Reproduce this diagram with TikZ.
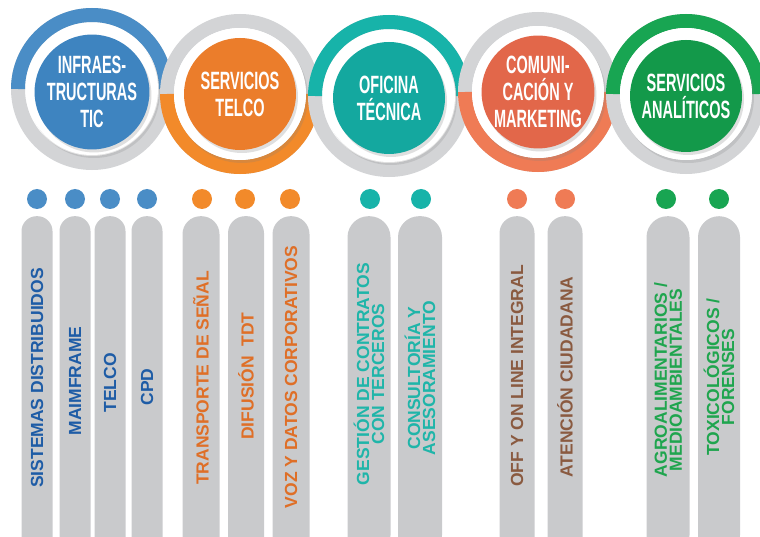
\documentclass[tikz,border=0pt]{standalone}
\usepackage{fontspec}
\setmainfont{Liberation Sans}
\newfontfamily\circfont[FakeStretch=0.58]{Liberation Sans}
\usetikzlibrary{shadows}
\definecolor{ringgray}{HTML}{D3D4D6}
\definecolor{bargray}{HTML}{C9CACC}
\definecolor{infblue}{HTML}{4A8DC6}
\definecolor{discblue}{HTML}{3E84C0}
\definecolor{txtblue}{HTML}{1E5CA6}
\definecolor{telorange}{HTML}{F28A2A}
\definecolor{discorange}{HTML}{EB7D2B}
\definecolor{txtorange}{HTML}{DF6F27}
\definecolor{ofteal}{HTML}{17B3A9}
\definecolor{discteal}{HTML}{14A89F}
\definecolor{txtteal}{HTML}{1FB5A9}
\definecolor{comsalmon}{HTML}{EF7B55}
\definecolor{discsalmon}{HTML}{E2674A}
\definecolor{txtbrown}{HTML}{8A5A40}
\definecolor{angreen}{HTML}{18A552}
\definecolor{discgreen}{HTML}{13994A}
\definecolor{txtgreen}{HTML}{1FA54E}

\begin{document}
\begin{tikzpicture}[x=1pt, y=-1pt,
  ring/.style={line width=14pt},
  plate/.style={circle, fill=white, minimum size=132pt, inner sep=0pt,
    drop shadow={opacity=0.22, shadow xshift=2pt, shadow yshift=-3pt}},
  disc/.style={circle, minimum size=112pt, inner sep=0pt, text=white, align=center,
    drop shadow={opacity=0.25, shadow xshift=2pt, shadow yshift=-3pt},
    font=\circfont\bfseries\fontsize{25}{27}\selectfont},
  dot/.style={circle, minimum size=20pt, inner sep=0pt},
  bar/.style 2 args={rectangle, fill=bargray, anchor=north, inner sep=0pt,
    minimum width=#1, minimum height=340pt, rounded corners=#2},
  lab/.style={rotate=90, align=center, font=\bfseries\fontsize{17.5}{15}\selectfont}]

\useasboundingbox (0,0) rectangle (760,537);

\coordinate (r1) at (92,89);
\coordinate (r2) at (240,94);
\coordinate (r3) at (389,96);
\coordinate (r4) at (538,92);
\coordinate (r5) at (686,94);

\draw[ring, ringgray] (r1) circle[radius=74pt];
\draw[ring, infblue] (r1) ++(-74pt,0pt) arc[start angle=180, end angle=0, radius=74pt];
\draw[ring, ringgray] (r2) circle[radius=73pt];
\draw[ring, telorange] (r2) ++(-73pt,0pt) arc[start angle=180, end angle=360, radius=73pt];
\draw[ring, ringgray] (r3) circle[radius=74pt];
\draw[ring, ofteal] (r3) ++(-74pt,0pt) arc[start angle=180, end angle=0, radius=74pt];
\draw[ring, ringgray] (r4) circle[radius=73pt];
\draw[ring, comsalmon] (r4) ++(-73pt,0pt) arc[start angle=180, end angle=360, radius=73pt];
\draw[ring, ringgray] (r5) circle[radius=73pt];
\draw[ring, angreen] (r5) ++(-73pt,0pt) arc[start angle=180, end angle=0, radius=73pt];

\node[plate] (p1) at (r1) {};
\node[plate] (p2) at (r2) {};
\node[plate] (p3) at (r3) {};
\node[plate] (p4) at (r4) {};
\node[plate] (p5) at (r5) {};

\node[disc, fill=discblue] (d1) at (92,92) {INFRAES-\\TRUCTURAS\\TIC};
\node[disc, fill=discorange] (d2) at (240,94) {SERVICIOS\\TELCO};
\node[disc, fill=discteal] (d3) at (389,98) {OFICINA\\TÉCNICA};
\node[disc, fill=discsalmon] (d4) at (538,92) {COMUNI-\\CACIÓN Y\\MARKETING};
\node[disc, fill=discgreen] (d5) at (686,96) {SERVICIOS\\ANALÍTICOS};

\node[dot, fill=infblue] (o1) at (37,199) {};
\node[dot, fill=infblue] (o2) at (75,199) {};
\node[dot, fill=infblue] (o3) at (110,199) {};
\node[dot, fill=infblue] (o4) at (147,199) {};
\node[dot, fill=telorange] (o5) at (202,199) {};
\node[dot, fill=telorange] (o6) at (245,199) {};
\node[dot, fill=telorange] (o7) at (290,199) {};
\node[dot, fill=ofteal] (o8) at (370,199) {};
\node[dot, fill=ofteal] (o9) at (421,199) {};
\node[dot, fill=comsalmon] (o10) at (517,199) {};
\node[dot, fill=comsalmon] (o11) at (565,199) {};
\node[dot, fill=angreen] (o12) at (666,199) {};
\node[dot, fill=angreen] (o13) at (719,199) {};

\node[bar={31pt}{15pt}] (b1) at (37,216) {};
\node[bar={31pt}{15pt}] (b2) at (75,216) {};
\node[bar={31pt}{15pt}] (b3) at (110,216) {};
\node[bar={31pt}{15pt}] (b4) at (147,216) {};
\node[bar={37pt}{18pt}] (b5) at (201,216) {};
\node[bar={36pt}{17pt}] (b6) at (246,216) {};
\node[bar={37pt}{18pt}] (b7) at (291,216) {};
\node[bar={43pt}{21pt}] (b8) at (369,216) {};
\node[bar={44pt}{21pt}] (b9) at (420,216) {};
\node[bar={35pt}{17pt}] (b10) at (517,216) {};
\node[bar={35pt}{17pt}] (b11) at (565,216) {};
\node[bar={43pt}{21pt}] (b12) at (668,216) {};
\node[bar={42pt}{21pt}] (b13) at (719,216) {};

\node[lab, text=txtblue] (t1) at (37,378) {SISTEMAS DISTRIBUIDOS};
\node[lab, text=txtblue] (t2) at (75,381) {MAIMFRAME};
\node[lab, text=txtblue] (t3) at (110,383) {TELCO};
\node[lab, text=txtblue] (t4) at (147,387) {CPD};
\node[lab, text=txtorange] (t5) at (201,378) {TRANSPORTE DE SEÑAL};
\node[lab, text=txtorange] (t6) at (246,376) {DIFUSIÓN~~TDT};
\node[lab, text=txtorange] (t7) at (291,377) {VOZ Y DATOS CORPORATIVOS};
\node[lab, text=txtteal] (t8) at (369,374) {GESTIÓN DE CONTRATOS\\CON TERCEROS};
\node[lab, text=txtteal] (t9) at (420,378) {CONSULTORÍA Y\\ASESORAMIENTO};
\node[lab, text=txtbrown] (t10) at (517,376) {OFF Y ON LINE INTEGRAL};
\node[lab, text=txtbrown] (t11) at (565,377) {ATENCIÓN CIUDADANA};
\node[lab, text=txtgreen] (t12) at (668,380) {AGROALIMENTARIOS /\\MEDIOAMBIENTALES};
\node[lab, text=txtgreen] (t13) at (719,377) {TOXICOLÓGICOS /\\FORENSES};

\end{tikzpicture}
\end{document}
